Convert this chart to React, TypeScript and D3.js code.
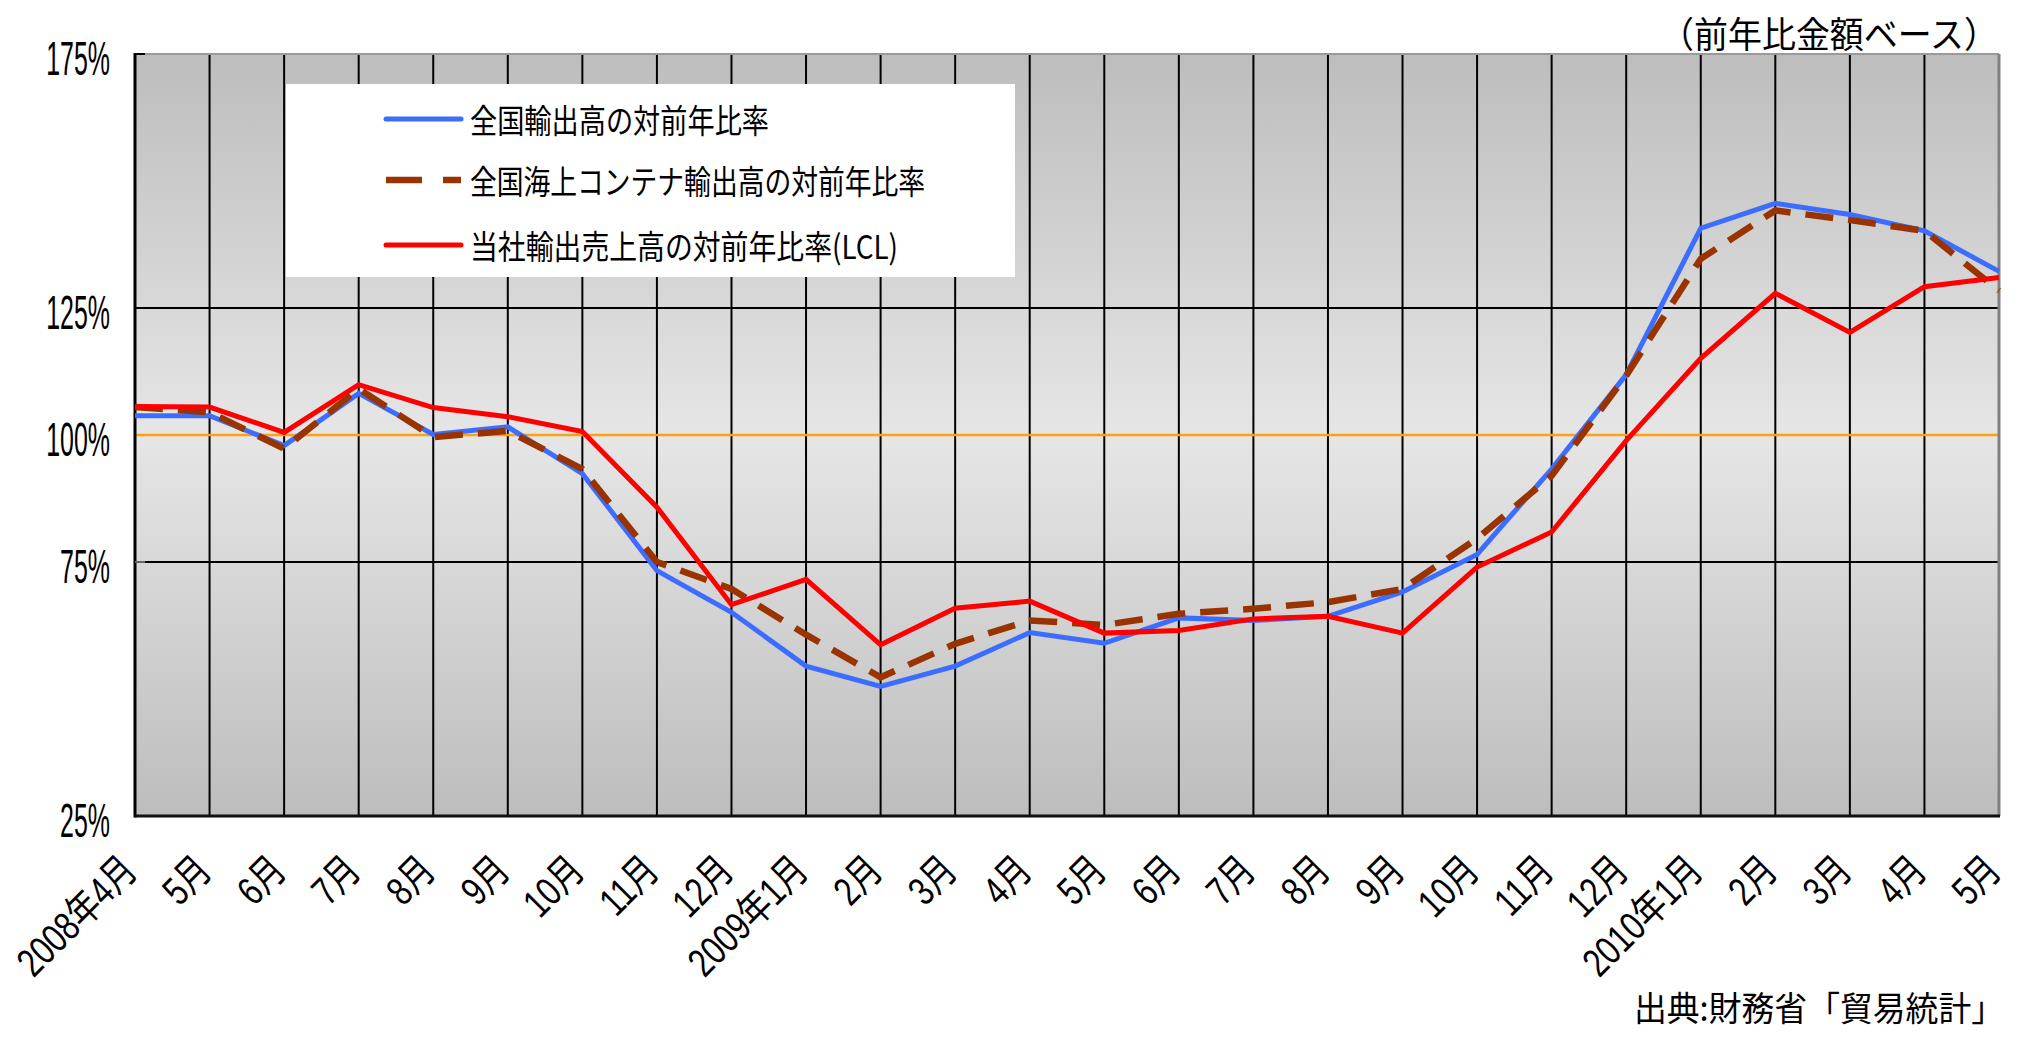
import * as d3 from 'd3';

// 2008年4月 〜 2010年5月
const months = [
  '2008年4月', '5月', '6月', '7月', '8月', '9月', '10月', '11月', '12月',
  '2009年1月', '2月', '3月', '4月', '5月', '6月', '7月', '8月', '9月', '10月', '11月', '12月',
  '2010年1月', '2月', '3月', '4月', '5月',
];

const nationalExport = [
  103.8, 103.8, 97.9, 108.2, 100.1, 101.6, 92.4, 73.3, 65.1,
  54.5, 50.5, 54.5, 61.1, 59.0, 64.0, 63.5, 64.3, 69.1, 76.5, 93.3, 111.9,
  140.7, 145.6, 143.4, 140.2, 132.2,
];

const containerExport = [
  105.5, 104.5, 97.3, 109.1, 99.6, 100.8, 93.3, 75.0, 69.7,
  60.7, 52.3, 58.9, 63.5, 62.6, 64.8, 65.8, 67.1, 69.7, 79.6, 92.0, 111.7,
  134.7, 144.2, 142.3, 140.2, 128.4,
];

const companyExport = [
  105.6, 105.5, 100.5, 109.9, 105.4, 103.6, 100.7, 85.8, 66.6,
  71.6, 58.7, 65.9, 67.3, 61.0, 61.5, 63.8, 64.3, 61.0, 74.0, 80.9, 98.9,
  115.1, 127.9, 120.2, 129.2, 131.0,
];

const seriesNames = [
  '全国輸出高の対前年比率',
  '全国海上コンテナ輸出高の対前年比率',
  '当社輸出売上高の対前年比率(LCL)',
];
const legendWidths = [299, 455, 428];

const yTicks = [25, 75, 100, 125, 175];
const yGrid = [75, 125];

const W = 2020;
const H = 1037;
const left = 135;
const right = 1999;
const top = 54;
const bottom = 816;

const CJK = '"Noto Sans CJK JP", "Liberation Sans", sans-serif';
const NUM = '"Liberation Sans", "Noto Sans CJK JP", sans-serif';

export default function App() {
  const x = d3.scaleLinear().domain([0, months.length - 1]).range([left, right]);
  const y = d3.scaleLinear().domain([25, 175]).range([bottom, top]);

  const line = d3.line<number>()
    .x((_d, i) => x(i))
    .y(d => y(d));

  const series = [
    { values: nationalExport, color: '#3d6dff', width: 5, dash: undefined },
    { values: containerExport, color: '#993300', width: 6.5, dash: '28 15' },
    { values: companyExport, color: '#ff0000', width: 5, dash: undefined },
  ];

  return (
    <svg
      width={W}
      height={H}
      viewBox={`0 0 ${W} ${H}`}
      style={{ position: 'absolute', left: 0, top: 0, display: 'block', background: '#fff' }}
    >
      <defs>
        <linearGradient id="bg" x1="0" y1="0" x2="0" y2="1">
          <stop offset="0%" stopColor="#bdbdbd" />
          <stop offset="50%" stopColor="#e6e6e6" />
          <stop offset="100%" stopColor="#bdbdbd" />
        </linearGradient>
      </defs>

      <rect x={left} y={top} width={right - left} height={bottom - top} fill="url(#bg)" />

      {/* vertical grid */}
      {months.map((_m, i) => (i > 0 && i < months.length - 1) ? (
        <line key={`v${i}`} x1={x(i)} x2={x(i)} y1={top} y2={bottom} stroke="#000" strokeWidth={2} />
      ) : null)}

      {/* horizontal grid */}
      {yGrid.map(v => (
        <line key={`h${v}`} x1={left} x2={right} y1={y(v)} y2={y(v)} stroke="#000" strokeWidth={2} />
      ))}
      <line x1={left} x2={right} y1={y(100)} y2={y(100)} stroke="#ffa010" strokeWidth={2.5} />

      {/* frame */}
      <line x1={left} x2={right} y1={top} y2={top} stroke="#9a9a9a" strokeWidth={2} />
      <line x1={right} x2={right} y1={top} y2={bottom} stroke="#808080" strokeWidth={3} />
      <line x1={left} x2={left} y1={top - 1} y2={bottom + 1.5} stroke="#000" strokeWidth={3} />
      <line x1={left} x2={right + 1} y1={bottom} y2={bottom} stroke="#111" strokeWidth={3} />
      {[175, 125, 75].map(v => (
        <line key={`t${v}`} x1={left} x2={left + 10} y1={y(v)} y2={y(v)}
          stroke={v === 75 ? '#666' : '#000'} strokeWidth={2} />
      ))}

      {/* legend */}
      <rect x={286} y={84} width={729} height={193} fill="#fff" />
      {seriesNames.map((name, i) => {
        const ly = [119, 180, 245][i];
        const s = series[i];
        return (
          <g key={name}>
            <line x1={386} x2={461} y1={ly} y2={ly} stroke={s.color}
              strokeWidth={s.width} strokeDasharray={s.dash ? '36 21' : undefined}
              strokeLinecap={s.dash ? 'butt' : 'round'} />
            <text x={470} y={ly} dominantBaseline="central" fontFamily={CJK} fontSize={33}
              textLength={legendWidths[i]} lengthAdjust="spacingAndGlyphs" fill="#000">{name}</text>
          </g>
        );
      })}

      {/* series */}
      {series.map((s, i) => (
        <path key={`s${i}`} d={line(s.values) ?? ''} fill="none" stroke={s.color}
          strokeWidth={s.width} strokeDasharray={s.dash} strokeLinejoin="miter" />
      ))}

      {/* y labels */}
      {yTicks.map(v => (
        <g key={`yl${v}`} transform={`translate(110, ${y(v) + 4}) scale(0.52, 1)`}>
          <text x={0} y={0} textAnchor="end" dominantBaseline="central" fontFamily={NUM}
            fontSize={48} fill="#000">{`${v}%`}</text>
        </g>
      ))}

      {/* x labels */}
      {months.map((m, i) => (
        <g key={`xl${i}`} transform={`translate(${x(i) + 4}, 873) rotate(-45) scale(0.78, 1)`}>
          <text x={0} y={0} textAnchor="end" fontFamily={NUM} fontSize={40} fill="#000">{m}</text>
        </g>
      ))}

      <text x={1660} y={32} dominantBaseline="central" fontFamily={CJK} fontSize={36}
        textLength={338} lengthAdjust="spacingAndGlyphs" fill="#000">（前年比金額ベース）</text>

      <text x={2004} y={1006} textAnchor="end" dominantBaseline="central" fontFamily={CJK} fontSize={34}
        textLength={370} lengthAdjust="spacingAndGlyphs" fill="#000">出典:財務省「貿易統計」</text>
    </svg>
  );
}
